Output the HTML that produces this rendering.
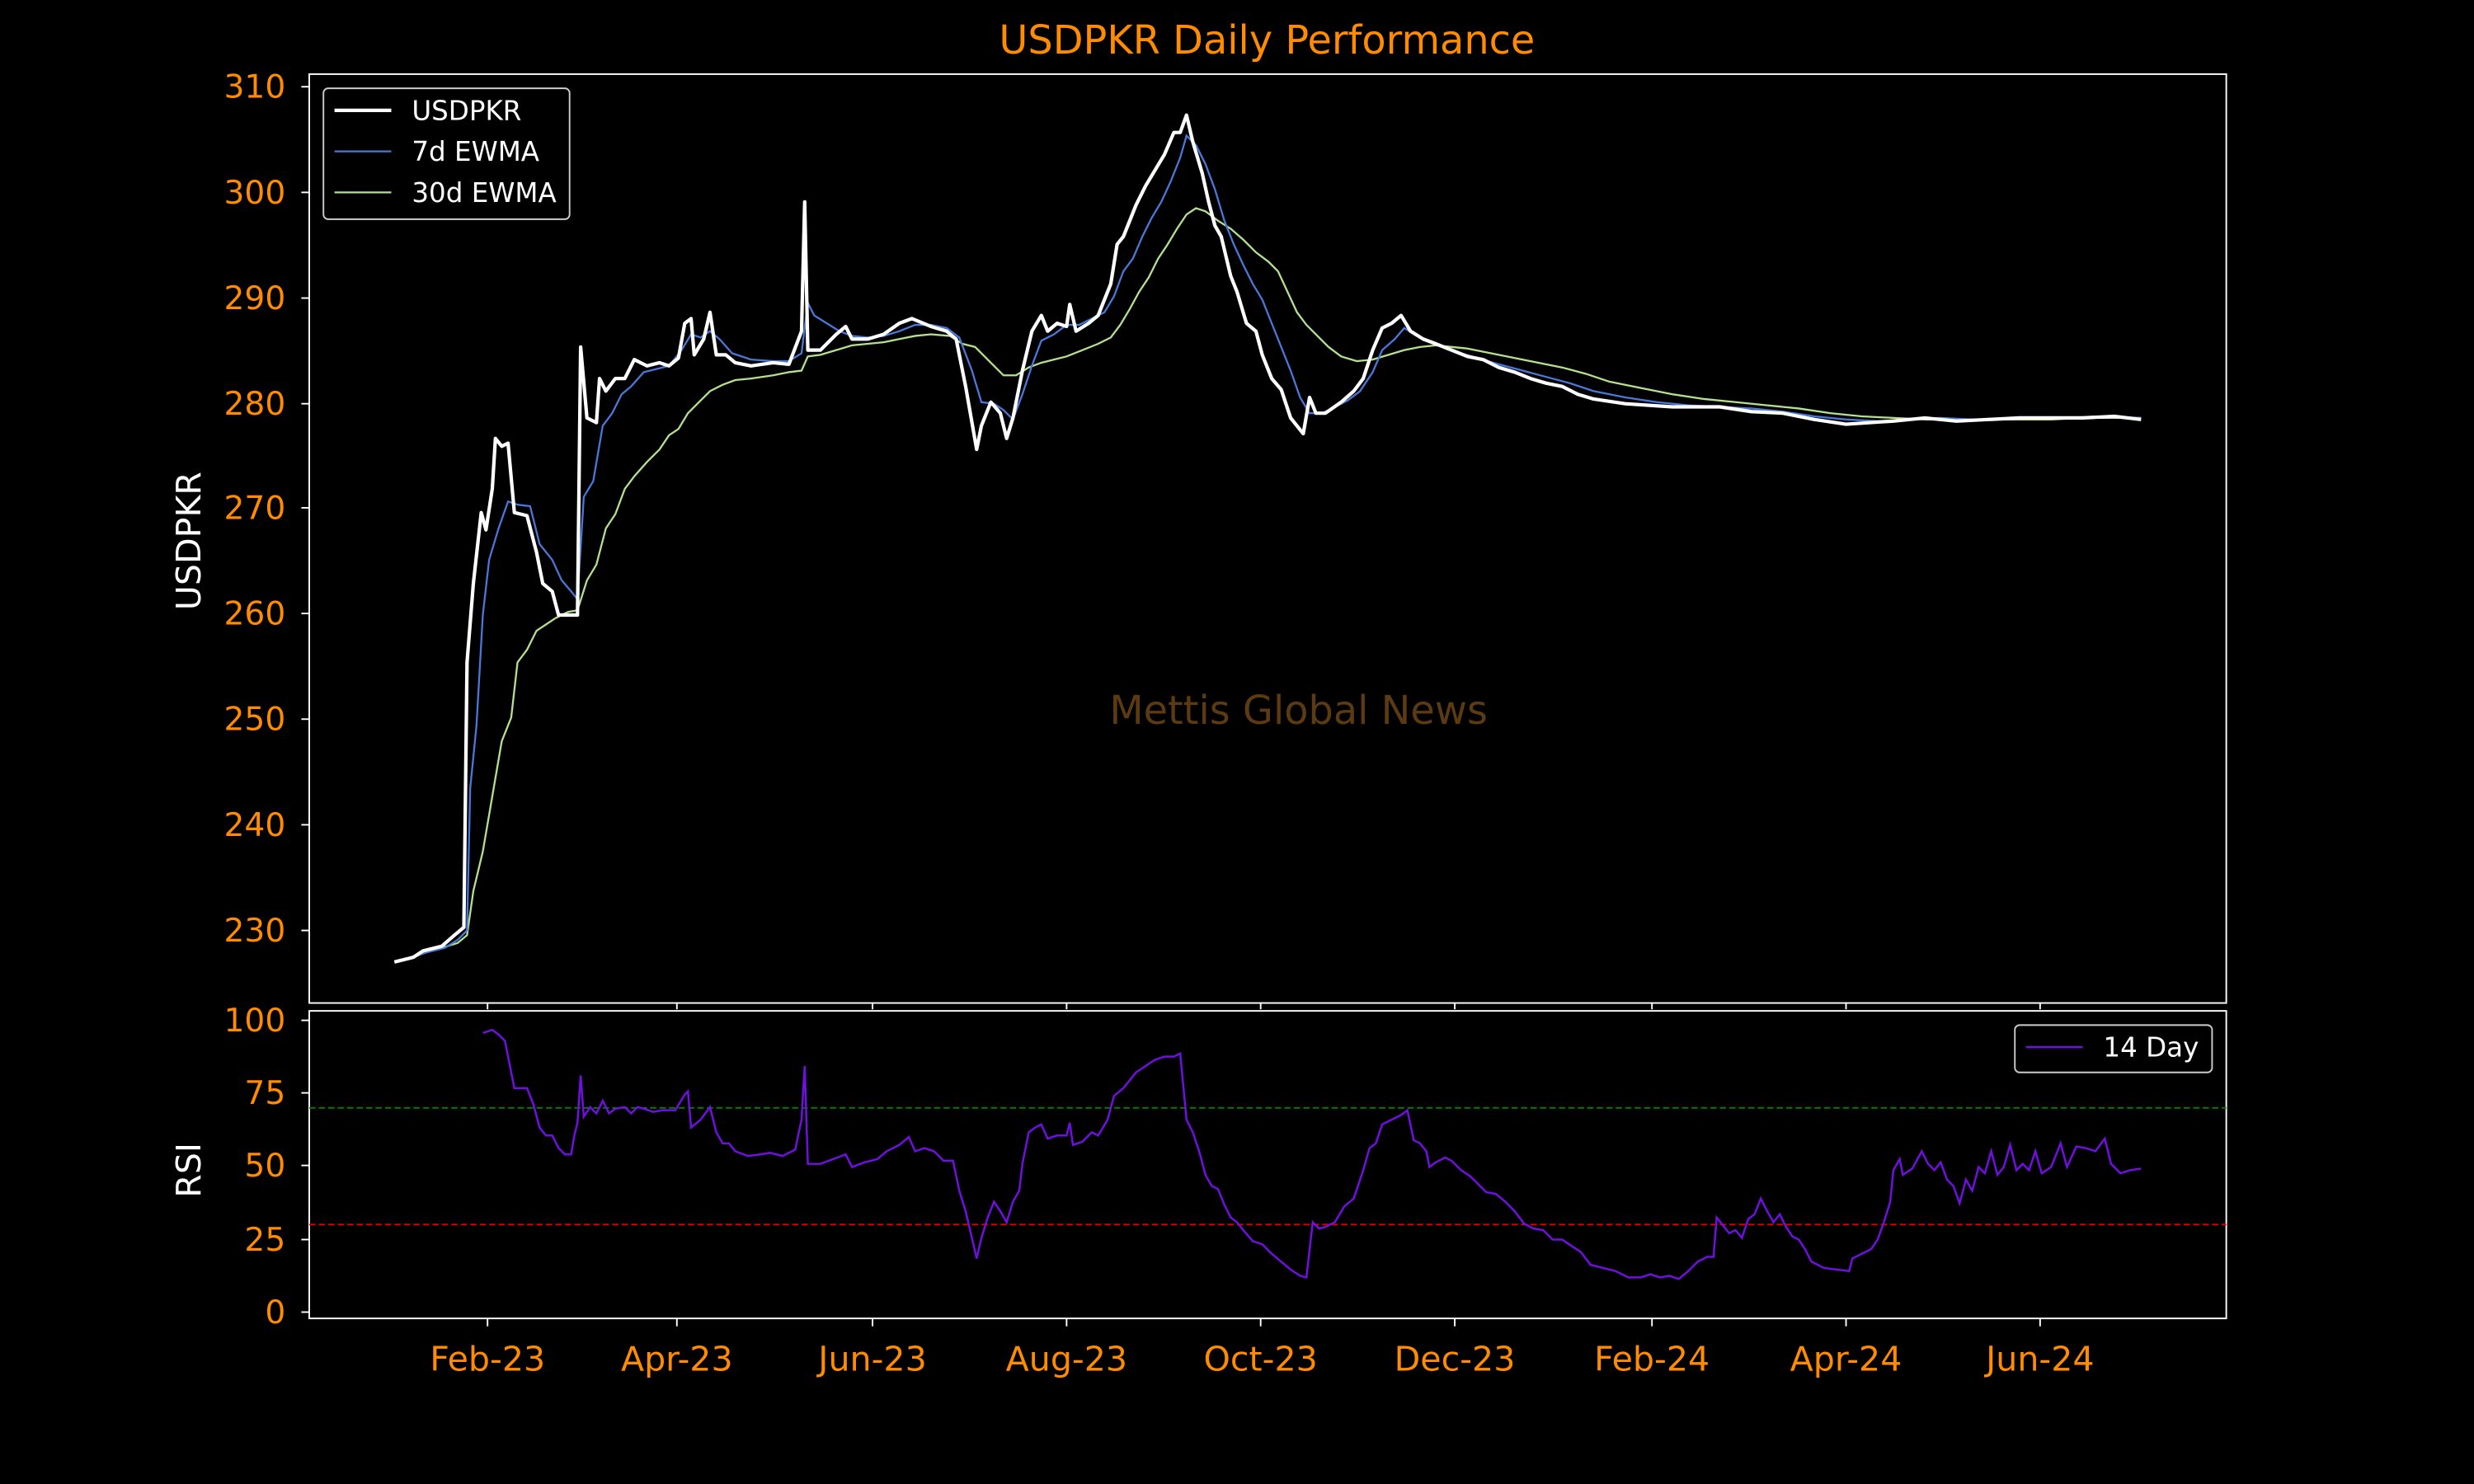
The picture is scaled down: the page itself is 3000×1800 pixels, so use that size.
<!DOCTYPE html>
<html><head><meta charset="utf-8"><style>
html,body{margin:0;padding:0;background:#000;}
svg{display:block;}
text{font-family:"DejaVu Sans","Liberation Sans",sans-serif;}
</style></head><body>
<svg width="3000" height="1800" viewBox="0 0 1568 941" preserveAspectRatio="none" xmlns="http://www.w3.org/2000/svg">
<rect width="1568" height="941" fill="#000"/>
<text x="803" y="34" fill="#ff8c00" font-size="25" text-anchor="middle">USDPKR Daily Performance</text>
<text x="823" y="459" fill="#5c3a12" font-size="25" text-anchor="middle">Mettis Global News</text>
<!-- main axes -->
<rect x="196" y="47" width="1215" height="589" fill="none" stroke="#fff" stroke-width="1"/>
<g fill="#ff8c00" font-size="20.5" text-anchor="end">
<text x="181" y="62">310</text><text x="181" y="129">300</text><text x="181" y="196">290</text><text x="181" y="263">280</text><text x="181" y="329">270</text><text x="181" y="396">260</text><text x="181" y="463">250</text><text x="181" y="530">240</text><text x="181" y="597">230</text>
</g>
<g stroke="#fff" stroke-width="1">
<line x1="191" y1="55" x2="196" y2="55"/><line x1="191" y1="122" x2="196" y2="122"/><line x1="191" y1="189" x2="196" y2="189"/><line x1="191" y1="256" x2="196" y2="256"/><line x1="191" y1="322" x2="196" y2="322"/><line x1="191" y1="389" x2="196" y2="389"/><line x1="191" y1="456" x2="196" y2="456"/><line x1="191" y1="523" x2="196" y2="523"/><line x1="191" y1="590" x2="196" y2="590"/>
<line x1="309" y1="636" x2="309" y2="640"/><line x1="429" y1="636" x2="429" y2="640"/><line x1="553" y1="636" x2="553" y2="640"/><line x1="676" y1="636" x2="676" y2="640"/><line x1="799" y1="636" x2="799" y2="640"/><line x1="922" y1="636" x2="922" y2="640"/><line x1="1047" y1="636" x2="1047" y2="640"/><line x1="1170" y1="636" x2="1170" y2="640"/><line x1="1293" y1="636" x2="1293" y2="640"/>
</g>
<text transform="translate(127,343) rotate(-90)" fill="#fff" font-size="21.5" text-anchor="middle">USDPKR</text>
<!-- 30d -->
<polyline fill="none" stroke="#b5e08f" stroke-width="1.2" points="250,610 270,604 290,598 296,593 300,565 306,540 312,505 318,470 324,455 328,420 334,412 340,400 346,396 352,392 360,388 366,387 372,368 378,358 384,335 390,326 396,310 402,302 410,293 418,285 424,276 430,272 436,262 442,256 450,248 458,244 466,241 476,240 490,238 500,236 508,235 512,226 520,225 530,222 540,219 550,218 560,217 570,215 580,213 590,212 602,213 610,218 618,220 624,226 630,232 636,238 644,238 652,233 660,230 668,228 676,226 686,222 696,218 704,214 710,206 716,196 722,185 728,176 734,164 740,155 746,145 752,136 758,132 764,134 772,140 780,145 788,152 796,160 804,166 810,172 816,185 822,198 828,206 834,212 842,220 850,226 860,229 870,228 880,225 890,222 900,220 910,219 920,220 930,221 945,224 960,227 975,230 990,233 1005,237 1020,242 1040,246 1060,250 1080,253 1100,255 1120,257 1140,259 1160,262 1180,264 1200,265 1220,266 1240,266 1260,266 1280,266 1300,266 1320,265 1340,265 1357,265"/>
<!-- 7d -->
<polyline fill="none" stroke="#4a78d8" stroke-width="1.2" points="250,610 262,607 270,604 282,601 290,596 296,590 298,500 302,460 306,390 310,355 316,335 322,318 328,320 336,321 342,345 350,355 356,368 362,375 366,380 370,315 376,305 382,270 388,262 394,250 400,245 408,236 416,234 424,232 432,222 438,212 444,214 450,210 456,215 464,224 476,228 490,229 500,229 508,224 512,192 516,200 524,205 532,210 540,213 550,214 560,213 570,210 580,206 590,206 600,208 608,214 616,235 622,255 630,256 636,260 642,266 648,250 654,232 660,216 668,212 676,206 684,206 692,202 700,198 706,188 712,172 718,164 724,150 730,138 736,128 742,115 748,100 752,86 758,92 764,104 770,120 776,140 782,155 788,168 794,180 800,190 806,205 812,220 818,235 824,252 830,262 838,262 846,258 854,254 862,248 870,236 876,222 884,215 890,208 898,213 906,216 916,220 926,224 936,227 950,231 965,235 980,239 995,243 1010,248 1030,252 1050,255 1070,257 1090,258 1110,259 1130,261 1150,264 1170,266 1190,267 1210,266 1230,265 1250,266 1270,266 1290,265 1310,265 1330,264 1357,265"/>
<!-- USDPKR -->
<polyline fill="none" stroke="#fff" stroke-width="2.2" stroke-linejoin="round" points="250,610 262,607 268,603 280,600 288,593 294,588 296,420 300,370 305,325 308,336 312,310 314,278 318,283 322,281 326,325 334,327 340,350 344,370 350,375 354,390 362,390 366,390 368,220 372,265 378,268 380,240 384,248 390,240 396,240 402,228 410,232 418,230 424,232 430,227 434,205 438,202 440,225 446,215 450,198 454,225 460,225 466,230 476,232 490,230 500,231 508,210 510,128 512,222 520,222 530,212 536,207 540,215 550,215 560,212 570,205 578,202 590,207 600,210 606,215 612,245 619,285 622,270 628,255 634,262 638,278 642,265 648,235 654,210 660,200 664,210 670,205 676,207 678,193 682,210 690,205 696,200 700,190 704,180 708,155 712,150 716,140 720,130 726,118 732,108 738,98 744,84 748,84 752,73 756,90 762,110 766,128 770,143 774,150 780,175 784,185 790,205 796,210 800,225 806,240 812,247 818,265 826,275 830,252 834,262 840,262 850,255 858,248 864,240 870,222 876,208 882,205 888,200 894,210 902,215 910,218 920,222 930,226 940,228 950,233 960,236 970,240 980,243 990,245 1000,250 1010,253 1030,256 1060,258 1090,258 1110,261 1130,262 1150,266 1170,269 1200,267 1220,265 1240,267 1260,266 1280,265 1300,265 1320,265 1340,264 1357,266"/>
<!-- legend -->
<rect x="205" y="56" width="156" height="83" rx="3" fill="#000" stroke="#ccc" stroke-width="1"/>
<line x1="212" y1="70" x2="248" y2="70" stroke="#fff" stroke-width="2.2"/>
<line x1="212" y1="96" x2="248" y2="96" stroke="#4a78d8" stroke-width="1.2"/>
<line x1="212" y1="122" x2="248" y2="122" stroke="#b5e08f" stroke-width="1.2"/>
<g fill="#fff" font-size="17"><text x="261" y="76">USDPKR</text><text x="261" y="102">7d EWMA</text><text x="261" y="128">30d EWMA</text></g>
<!-- RSI axes -->
<rect x="196" y="641" width="1215" height="195" fill="none" stroke="#fff" stroke-width="1"/>
<g fill="#ff8c00" font-size="20.5" text-anchor="end">
<text x="181" y="654">100</text><text x="181" y="700">75</text><text x="181" y="746">50</text><text x="181" y="793">25</text><text x="181" y="839">0</text>
</g>
<g stroke="#fff" stroke-width="1">
<line x1="191" y1="647" x2="196" y2="647"/><line x1="191" y1="693" x2="196" y2="693"/><line x1="191" y1="739" x2="196" y2="739"/><line x1="191" y1="786" x2="196" y2="786"/><line x1="191" y1="832" x2="196" y2="832"/>
<line x1="309" y1="836" x2="309" y2="841"/><line x1="429" y1="836" x2="429" y2="841"/><line x1="553" y1="836" x2="553" y2="841"/><line x1="676" y1="836" x2="676" y2="841"/><line x1="799" y1="836" x2="799" y2="841"/><line x1="922" y1="836" x2="922" y2="841"/><line x1="1047" y1="836" x2="1047" y2="841"/><line x1="1170" y1="836" x2="1170" y2="841"/><line x1="1293" y1="836" x2="1293" y2="841"/>
</g>
<g fill="#ff8c00" font-size="21.5" text-anchor="middle">
<text x="309" y="869">Feb-23</text><text x="429" y="869">Apr-23</text><text x="553" y="869">Jun-23</text><text x="676" y="869">Aug-23</text><text x="799" y="869">Oct-23</text><text x="922" y="869">Dec-23</text><text x="1047" y="869">Feb-24</text><text x="1170" y="869">Apr-24</text><text x="1293" y="869">Jun-24</text>
</g>
<text transform="translate(127,742) rotate(-90)" fill="#fff" font-size="21.5" text-anchor="middle">RSI</text>
<line x1="196" y1="702.5" x2="1411" y2="702.5" stroke="#008000" stroke-width="1" stroke-dasharray="4,2"/>
<line x1="196" y1="776.5" x2="1411" y2="776.5" stroke="#e00000" stroke-width="1" stroke-dasharray="4,2"/>
<polyline fill="none" stroke="#7010e0" stroke-width="1.3" points="306,655 312,653 316,656 320,660 324,680 326,690 330,690 334,690 338,700 342,715 346,720 350,720 354,728 358,732 362,732 364,720 366,712 368,682 370,708 374,702 378,706 382,698 386,706 390,703 396,702 400,706 404,702 408,703 414,705 420,704 428,704 434,694 436,692 438,715 444,710 450,702 454,718 458,725 462,725 466,730 474,733 482,732 488,731 496,733 504,729 508,710 510,676 512,738 520,738 528,735 536,732 540,740 548,737 556,735 562,730 570,726 576,721 580,730 586,728 592,730 598,736 604,736 608,755 612,768 616,785 619,798 622,785 626,772 630,762 634,768 638,775 642,762 646,755 648,738 652,718 656,715 660,713 664,722 670,720 676,720 678,712 680,726 686,724 692,718 696,720 702,710 706,695 712,690 716,685 720,680 726,676 732,672 738,670 744,670 748,668 752,710 756,718 760,730 764,745 768,752 772,754 776,764 780,772 784,775 788,780 794,787 800,789 806,795 812,800 818,805 824,809 828,810 832,775 836,779 840,778 846,775 852,765 858,760 864,742 868,728 872,725 876,713 882,710 888,707 892,704 896,723 900,725 904,730 906,740 910,737 916,734 920,736 926,742 932,746 938,752 942,756 948,757 954,762 960,768 966,776 972,779 978,780 984,786 990,786 996,790 1002,794 1008,802 1016,804 1024,806 1032,810 1040,810 1046,808 1052,810 1058,809 1064,811 1070,806 1076,800 1082,797 1086,797 1088,772 1092,777 1096,782 1100,780 1104,785 1108,773 1112,770 1116,760 1120,768 1124,775 1128,770 1132,778 1136,784 1140,786 1144,792 1148,800 1156,804 1164,805 1172,806 1174,798 1180,795 1186,792 1190,786 1194,775 1198,762 1200,742 1204,735 1206,745 1212,741 1218,730 1222,738 1226,742 1230,737 1234,748 1238,752 1242,763 1246,748 1250,755 1254,740 1258,744 1262,730 1266,745 1270,740 1274,726 1278,742 1282,738 1286,742 1290,730 1294,744 1300,740 1306,725 1310,740 1316,727 1322,728 1328,730 1334,722 1338,738 1344,744 1350,742 1357,741"/>
<rect x="1277" y="650" width="125" height="30" rx="3" fill="#000" stroke="#ccc" stroke-width="1"/>
<line x1="1284" y1="664" x2="1320" y2="664" stroke="#7010e0" stroke-width="1.3"/>
<text x="1333" y="670" fill="#fff" font-size="17">14 Day</text>
</svg>
</body></html>
